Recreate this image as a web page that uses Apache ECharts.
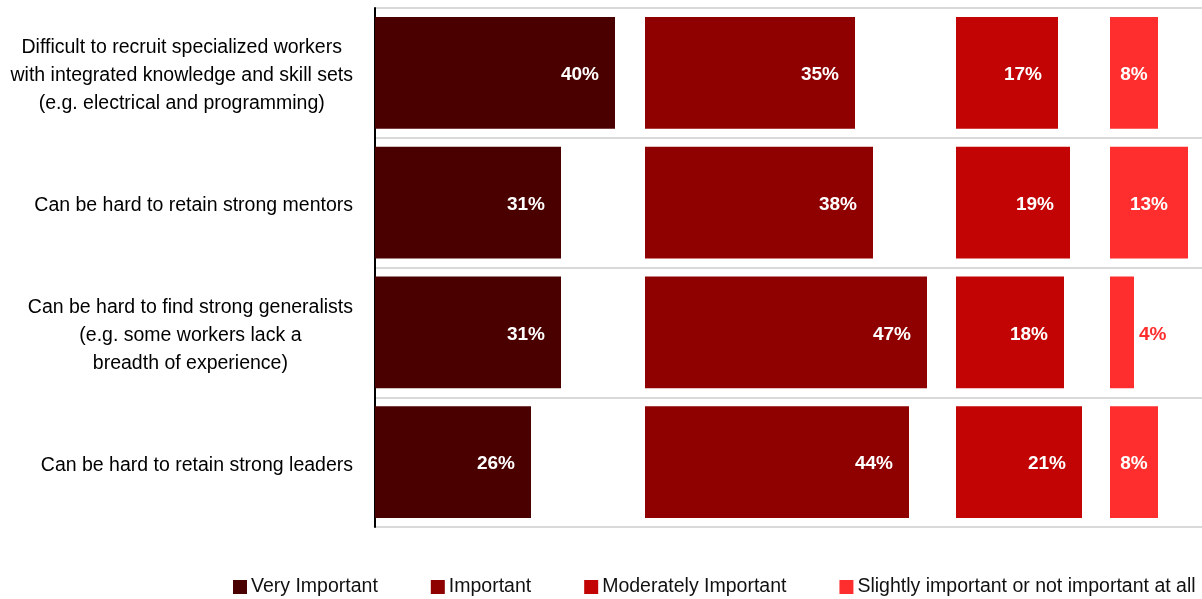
<!DOCTYPE html>
<html>
<head>
<meta charset="utf-8">
<style>
  html, body { margin: 0; padding: 0; background: #ffffff; }
  #chart { width: 1202px; height: 599px; }
</style>
<script src="https://cdn.jsdelivr.net/npm/echarts@6/dist/echarts.min.js"></script>
</head>
<body>
<div id="chart"></div>
<script>
// Workforce challenges, share of respondents by importance rating (%)
const categories = [
  'Difficult to recruit specialized workers\nwith integrated knowledge and skill sets\n(e.g. electrical and programming)',
  'Can be hard to retain strong mentors',
  'Can be hard to find strong generalists\n(e.g. some workers lack a\nbreadth of experience)',
  'Can be hard to retain strong leaders'
];
const seriesNames = [
  'Very Important',
  'Important',
  'Moderately Important',
  'Slightly important or not important at all'
];
const veryImportant = [40, 31, 31, 26];
const important = [35, 38, 47, 44];
const moderatelyImportant = [17, 19, 18, 21];
const slightlyImportant = [8, 13, 4, 8];

const seriesValues = [veryImportant, important, moderatelyImportant, slightlyImportant];
const colors = ['#4b0000', '#8f0000', '#c20404', '#ff2e2e'];

// Each rating gets its own panel; panel x positions and value ranges.
// Labels sit at the inner end of wide bars and centred in the narrow panel.
const panels = [
  { left: 375, width: 270, max: 45, labelPos: 'insideRight' },
  { left: 645, width: 300, max: 50, labelPos: 'insideRight' },
  { left: 956, width: 150, max: 25, labelPos: 'insideRight' },
  { left: 1110, width: 90, max: 15, labelPos: 'inside' }
];

const FONT = "'Liberation Sans', Arial, Helvetica, sans-serif";
const TOP = 8, HEIGHT = 519;

const grids = [{ left: 375, right: 0, top: TOP, height: HEIGHT }];
const xAxes = [{ gridIndex: 0, type: 'value', show: false, min: 0, max: 1 }];
const yAxes = [{
  gridIndex: 0,
  type: 'category',
  inverse: true,
  data: categories,
  axisLine: { show: true, lineStyle: { color: '#000000', width: 2 } },
  axisTick: { show: false },
  splitLine: { show: true, lineStyle: { color: '#d9d9d9', width: 2 } },
  axisLabel: {
    margin: 22,
    padding: [6, 0, 0, 0],
    formatter: v => '{c|' + v + '}',
    rich: {
      c: {
        align: 'center',
        fontFamily: FONT,
        fontSize: 19.5,
        lineHeight: 28,
        color: '#000000'
      }
    }
  }
}];

const series = [];
panels.forEach((p, i) => {
  const idx = i + 1;
  grids.push({ left: p.left, width: p.width, top: TOP, height: HEIGHT });
  xAxes.push({ gridIndex: idx, type: 'value', min: 0, max: p.max, show: false });
  yAxes.push({ gridIndex: idx, type: 'category', inverse: true, data: categories, show: false });
  series.push({
    name: seriesNames[i],
    type: 'bar',
    xAxisIndex: idx,
    yAxisIndex: idx,
    barCategoryGap: '14%',
    itemStyle: { color: colors[i] },
    label: {
      show: true,
      position: p.labelPos,
      distance: 16,
      offset: [0, 2],
      formatter: '{c}%',
      color: '#ffffff',
      fontFamily: FONT,
      fontWeight: 'bold',
      fontSize: 19
    },
    data: seriesValues[i].map(v => v < 6
      ? { value: v, label: { position: 'right', distance: 5, color: colors[i] } }
      : v)
  });
});

const chart = echarts.init(document.getElementById('chart'), null, { renderer: 'canvas' });
chart.setOption({
  animation: false,
  backgroundColor: '#ffffff',
  grid: grids,
  xAxis: xAxes,
  yAxis: yAxes,
  legend: {
    data: seriesNames,
    left: 228,
    top: 572,
    icon: 'rect',
    itemWidth: 14,
    itemHeight: 14,
    itemGap: 53,
    textStyle: { fontFamily: FONT, fontSize: 19.5, color: '#111111', padding: [0, 0, 0, -1] }
  },
  series: series
});
</script>
</body>
</html>
